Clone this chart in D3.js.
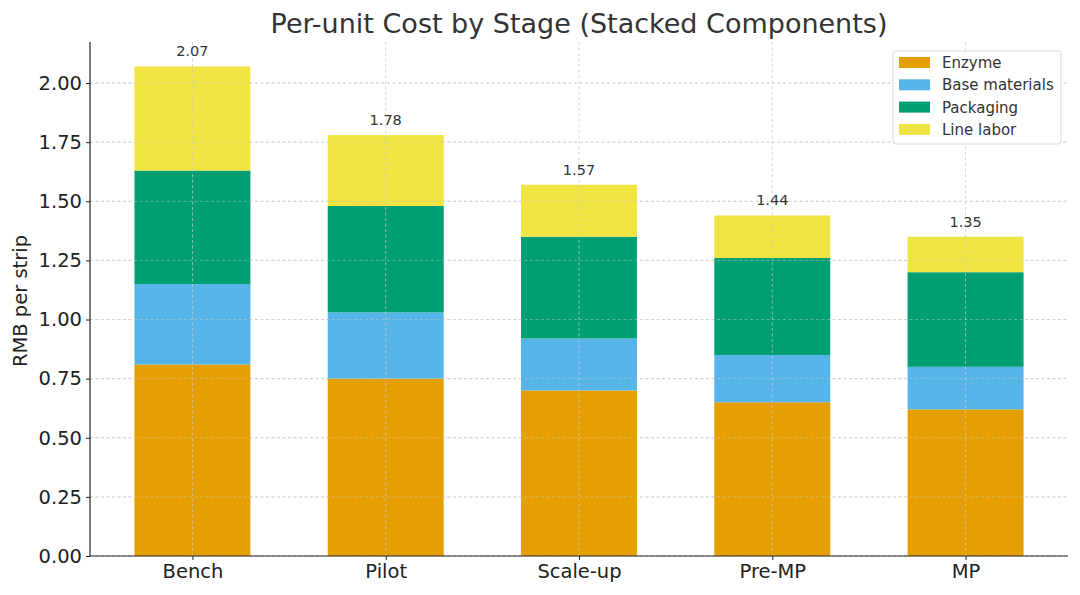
<!DOCTYPE html>
<html><head><meta charset="utf-8">
<script src="https://cdn.jsdelivr.net/npm/d3@7"></script>
<style>body{margin:0;background:#fff;font-family:"DejaVu Sans",sans-serif}</style>
</head><body><svg id="c" width="1080" height="595"></svg>
<script>
const categories = ["Bench","Pilot","Scale-up","Pre-MP","MP"];
const seriesNames = ["Enzyme","Base materials","Packaging","Line labor"];
const enzyme = [0.81,0.75,0.70,0.65,0.62];
const baseMaterials = [0.34,0.28,0.22,0.20,0.18];
const packaging = [0.48,0.45,0.43,0.41,0.40];
const lineLabor = [0.44,0.30,0.22,0.18,0.15];
const totals = [2.07,1.78,1.57,1.44,1.35];
const yTicks = [0,0.25,0.5,0.75,1.0,1.25,1.5,1.75,2.0];
const colors = ["#E69F00","#56B4E9","#009E73","#F0E442"];

const svg = d3.select("#c");
const L=90,R=1068,T=42,B=556;
const x = d3.scaleLinear().domain([-0.53,4.53]).range([L,R]);
const y = d3.scaleLinear().domain([0,2.1735]).range([B,T]);
const bw = 0.6;
const seriesVals=[enzyme,baseMaterials,packaging,lineLabor];
const rows = categories.map((c,i)=>{const o={cat:c,i};seriesNames.forEach((s,k)=>o[s]=seriesVals[k][i]);return o;});
const stack = d3.stack().keys(seriesNames)(rows);

const grid = (sel)=>sel.attr("stroke","#cccccc").attr("stroke-width",0.8).attr("stroke-dasharray","3,2.5");
grid(svg.append("g").selectAll("line").data(yTicks).join("line").attr("x1",L).attr("x2",R)
 .attr("y1",d=>y(d)).attr("y2",d=>y(d)));
svg.append("g").selectAll("g").data(stack).join("g").attr("fill",(d,k)=>colors[k])
 .selectAll("rect").data(d=>d).join("rect")
 .attr("x",d=>x(d.data.i-bw/2)).attr("width",x(bw)-x(0))
 .attr("y",d=>y(d[1])).attr("height",d=>y(d[0])-y(d[1]));
grid(svg.append("g").selectAll("line").data(categories).join("line")
 .attr("x1",(d,i)=>x(i)).attr("x2",(d,i)=>x(i)).attr("y1",T).attr("y2",B)).attr("opacity",0.9);
grid(svg.append("g").selectAll("line").data(yTicks).join("line").attr("x1",L).attr("x2",R)
 .attr("y1",d=>y(d)).attr("y2",d=>y(d))).attr("opacity",0.6);

const ya = svg.append("g").attr("transform",`translate(${L},0)`)
 .call(d3.axisLeft(y).tickValues(yTicks).tickFormat(d3.format(".2f")).tickSize(4).tickPadding(4));
const xa = svg.append("g").attr("transform",`translate(0,${B})`)
 .call(d3.axisBottom(x).tickValues(d3.range(categories.length)).tickFormat(i=>categories[i]).tickSize(4).tickPadding(4));
[ya,xa].forEach(a=>{a.selectAll("text").attr("font-family","DejaVu Sans").attr("font-size",19.5).attr("fill","#222");
 a.selectAll("line").attr("stroke","#222");a.select(".domain").attr("stroke","#222").attr("stroke-width",1.2);});
xa.select(".domain").attr("d",`M${L},0H${R}`);
ya.select(".domain").attr("d",`M0,${B}V${T}`);

svg.append("g").selectAll("text").data(totals).join("text")
 .attr("x",(d,i)=>x(i)).attr("y",d=>y(d)-10).attr("text-anchor","middle")
 .attr("font-size",14.5).attr("fill","#333").text(d=>d.toFixed(2));

svg.append("text").attr("x",579).attr("y",33).attr("text-anchor","middle")
 .attr("font-size",27).attr("fill","#333").text("Per-unit Cost by Stage (Stacked Components)");
svg.append("text").attr("transform",`translate(27,${(T+B)/2+2}) rotate(-90)`).attr("text-anchor","middle")
 .attr("font-size",19.5).attr("fill","#222").text("RMB per strip");

const lg = svg.append("g").attr("transform","translate(893,51)");
lg.append("rect").attr("width",168).attr("height",93).attr("rx",3).attr("fill","#fff").attr("fill-opacity",0.85).attr("stroke","#d8d8d8");
seriesNames.forEach((s,k)=>{
 lg.append("rect").attr("x",6).attr("y",6+k*22.3).attr("width",31).attr("height",11).attr("fill",colors[k]);
 lg.append("text").attr("x",49).attr("y",17+k*22.3).attr("font-size",15).attr("fill","#333").text(s);
});
</script></body></html>
